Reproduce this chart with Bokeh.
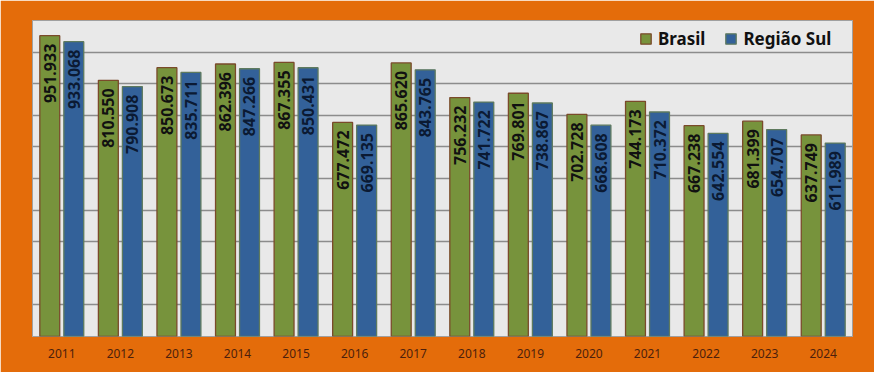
from bokeh.plotting import figure
from bokeh.models import ColumnDataSource, LabelSet, FixedTicker
from bokeh.transform import dodge
from bokeh.core.properties import value
from bokeh.embed import file_html
from bokeh.resources import INLINE

years = ["2011", "2012", "2013", "2014", "2015", "2016", "2017",
         "2018", "2019", "2020", "2021", "2022", "2023", "2024"]
brasil = [951.933, 810.550, 850.673, 862.396, 867.355, 677.472, 865.620,
          756.232, 769.801, 702.728, 744.173, 667.238, 681.399, 637.749]
sul = [933.068, 790.908, 835.711, 847.266, 850.431, 669.135, 843.765,
       741.722, 738.867, 668.608, 710.372, 642.554, 654.707, 611.989]
y_ticks = list(range(0, 1001, 100))

src = ColumnDataSource(dict(
    year=years, brasil=brasil, sul=sul,
    brasil_lbl=[f"{v:.3f}" for v in brasil],
    sul_lbl=[f"{v:.3f}" for v in sul],
))

p = figure(x_range=years, y_range=(0, 1000),
           frame_width=820, frame_height=316,
           min_border_left=32, min_border_right=22,
           min_border_top=20, min_border_bottom=36,
           output_backend="svg", toolbar_location=None,
           background_fill_color="#E9E9E9", border_fill_color="#E46C0A",
           outline_line_color="#a0a0a0")

off = 0.205
w = 0.34
p.vbar(x=dodge("year", -off, range=p.x_range), top="brasil", width=w, source=src,
       fill_color="#77933C", line_color="#7a4a2a", line_width=1.3,
       legend_label="Brasil")
p.vbar(x=dodge("year", off, range=p.x_range), top="sul", width=w, source=src,
       fill_color="#336199", line_color="#5e7a5e", line_width=1.3,
       legend_label="Região Sul")

for shift, lbl, col in ((-off, "brasil", "#111111"), (off, "sul", "#0b1a33")):
    p.add_layout(LabelSet(x=dodge("year", shift, range=p.x_range), y=lbl,
                          text=lbl + "_lbl", source=src, angle=90, angle_units="deg",
                          text_align="right", text_baseline="middle", y_offset=-8,
                          text_font=value("Noto Sans"), text_font_style="bold",
                          text_font_size="16px", text_color=col))

p.yaxis.visible = False
p.xgrid.grid_line_color = None
p.ygrid.ticker = FixedTicker(ticks=y_ticks)
p.ygrid.grid_line_color = "#8c8c8c"
p.ygrid.grid_line_width = 1.5

ax = p.xaxis[0]
ax.axis_line_color = None
ax.major_tick_line_color = None
ax.minor_tick_line_color = None
ax.major_label_standoff = 6
ax.major_label_text_font = "Noto Sans"
ax.major_label_text_font_size = "12px"
ax.major_label_text_color = "#4d1f0c"

lg = p.legend[0]
lg.location = (607, 286)
lg.orientation = "horizontal"
lg.background_fill_alpha = 0
lg.border_line_alpha = 0
lg.label_text_font = "Noto Sans"
lg.label_text_font_style = "bold"
lg.label_text_font_size = "17px"
lg.label_text_color = "#111111"
lg.glyph_width = 13
lg.glyph_height = 13
lg.label_standoff = 6
lg.spacing = 19
lg.margin = 0
lg.padding = 0

open("out.html", "w").write(file_html(p, INLINE))
